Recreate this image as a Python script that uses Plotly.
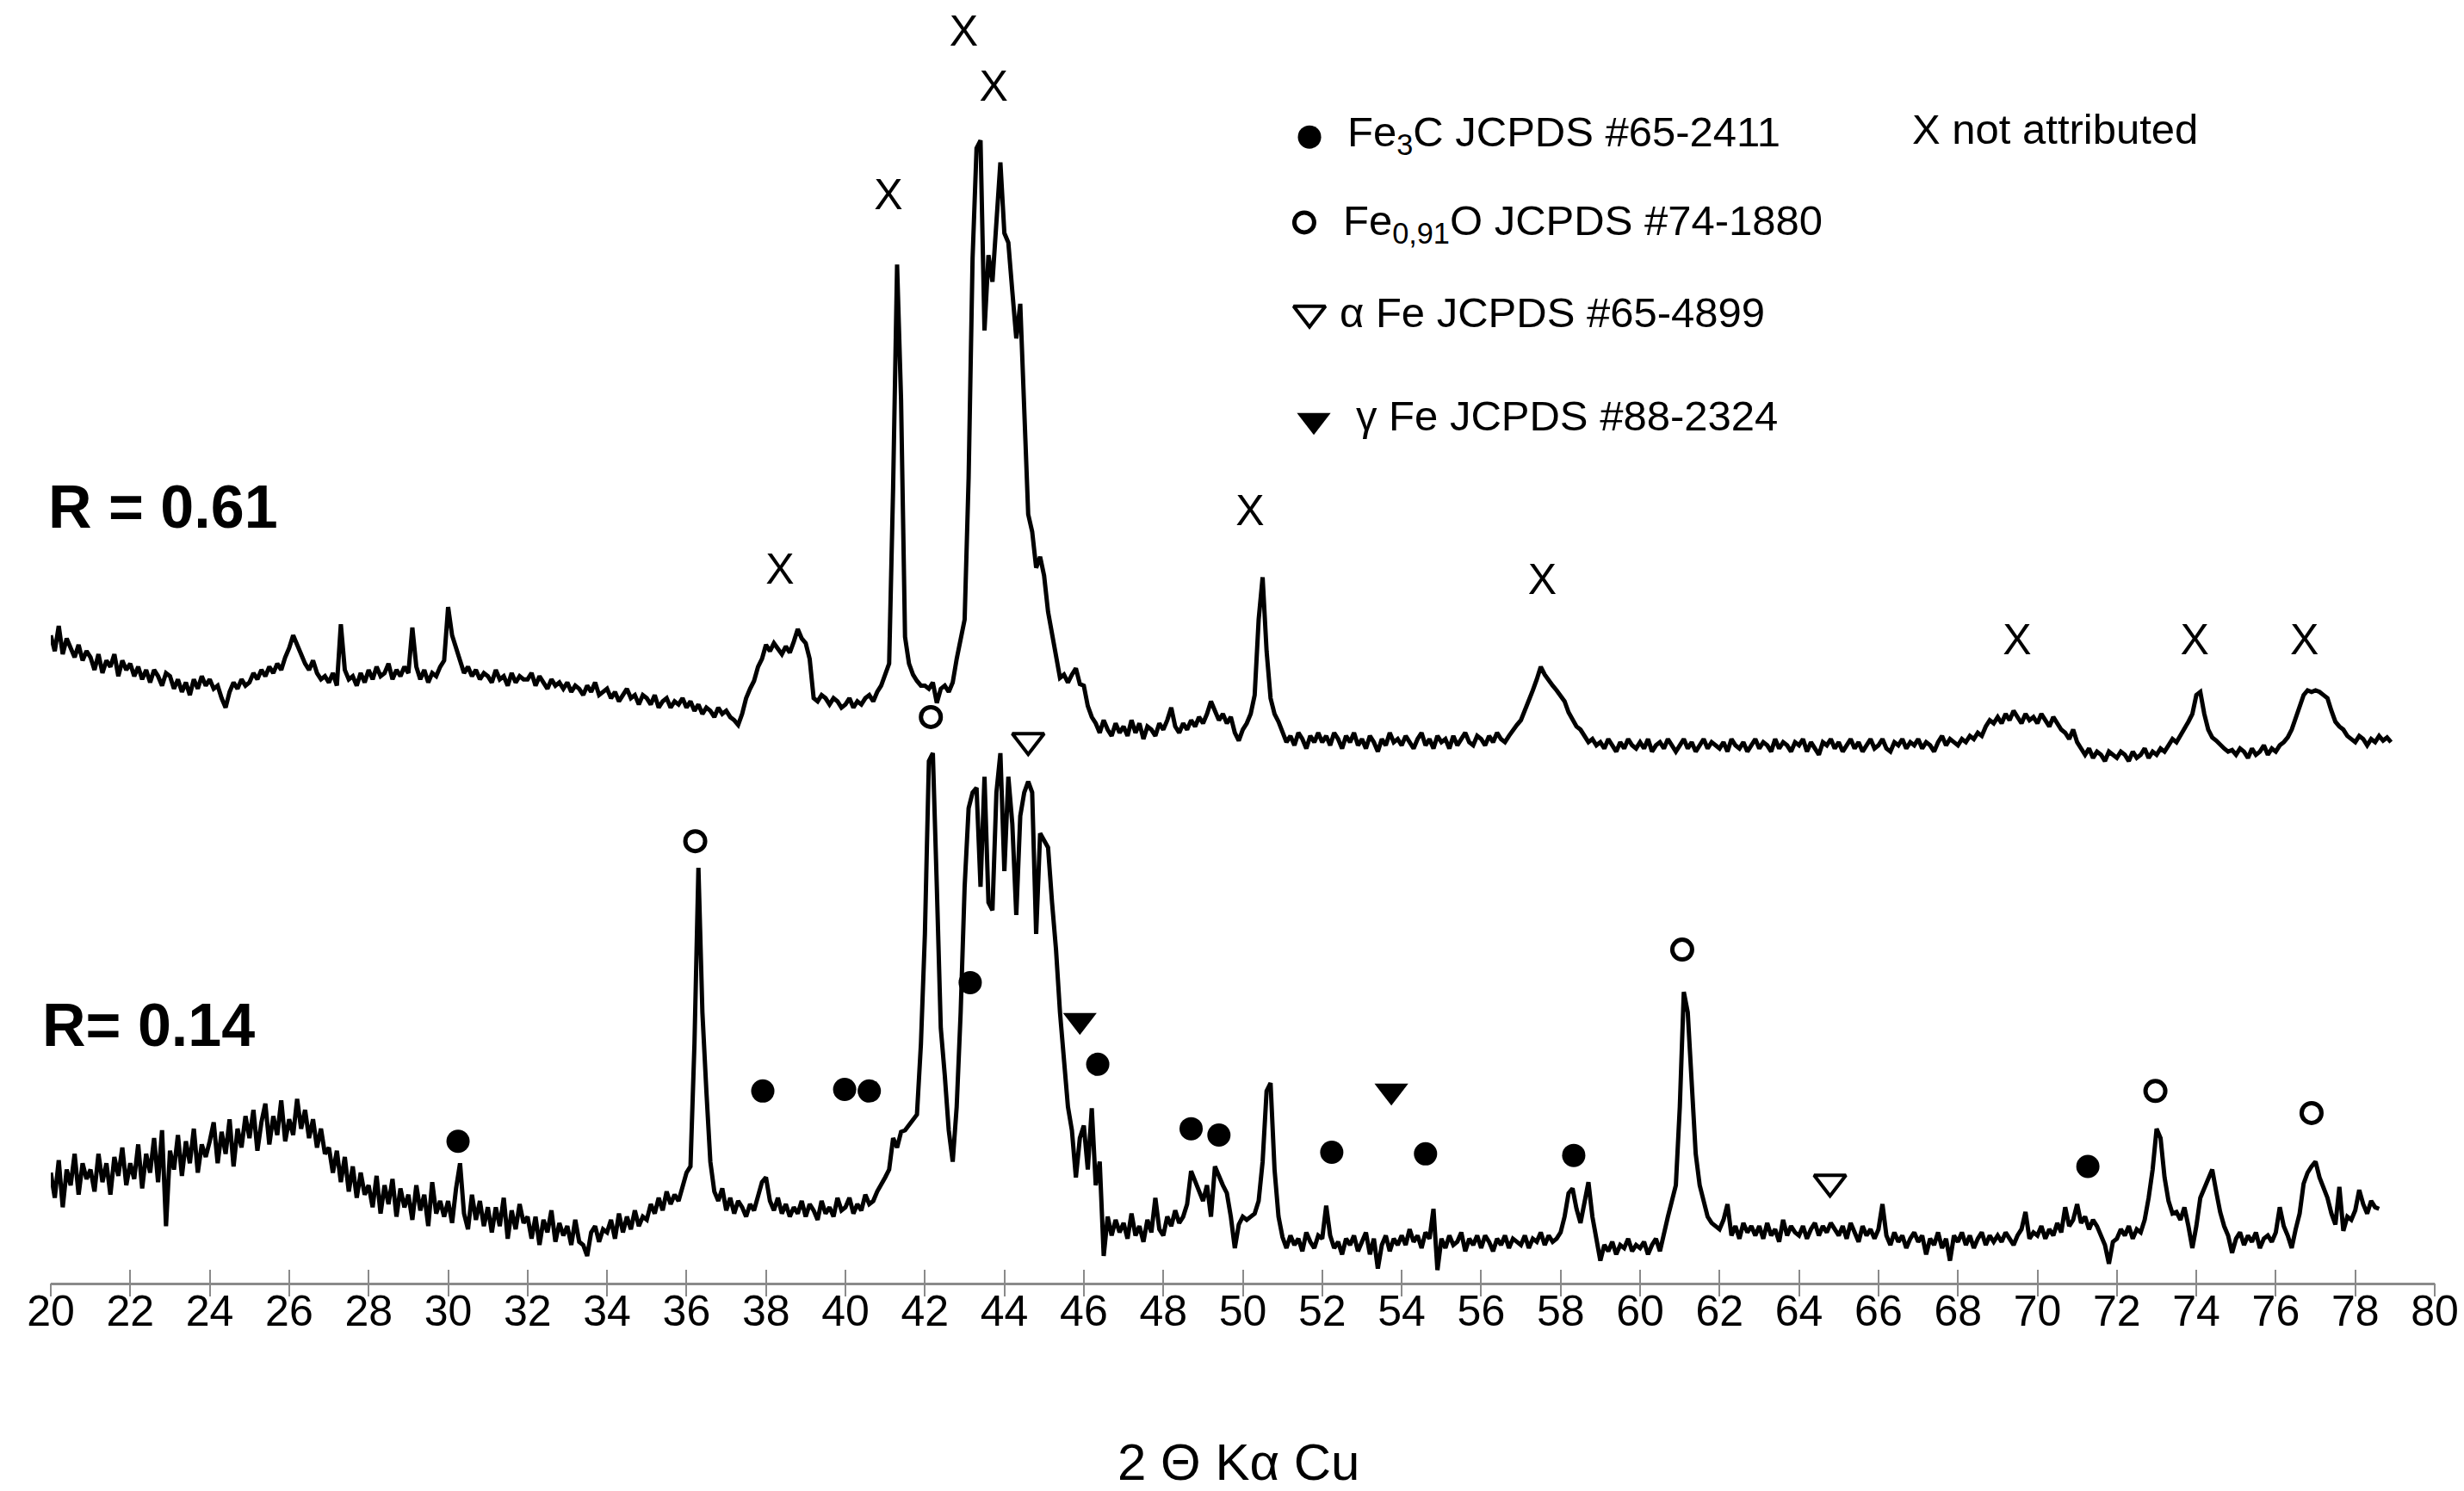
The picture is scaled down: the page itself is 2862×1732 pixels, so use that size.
import numpy as np
import plotly.graph_objects as go

# ---------------- data (intensity, arbitrary units) ----------------
TWO_THETA_START = 20.0   # first 2θ of each scan (degrees)
TWO_THETA_STEP = 0.1     # scan step (degrees)

# Sample R = 0.14 (lower pattern), one row per degree (20.x, 21.x, ...)
R014_INTENSITY = [
    70, 54, 78, 48, 72, 62, 82, 56, 76, 66,
    72, 58, 82, 64, 76, 56, 80, 68, 86, 62,
    76, 66, 88, 60, 82, 70, 92, 64, 97, 36,
    84, 72, 94, 68, 90, 76, 98, 70, 88, 80,
    90, 102, 76, 96, 82, 104, 74, 98, 86, 106,
    92, 110, 84, 102, 114, 88, 106, 94, 116, 90,
    104, 94, 117, 98, 110, 92, 104, 86, 98, 82,
    86, 70, 84, 64, 80, 58, 74, 54, 70, 56,
    62, 48, 68, 44, 62, 50, 66, 42, 60, 48,
    56, 40, 62, 46, 56, 36, 64, 44, 52, 42,
    52, 38, 60, 76, 44, 34, 56, 40, 52, 36,
    48, 32, 48, 36, 54, 28, 46, 34, 50, 38,
    42, 28, 42, 24, 40, 32, 46, 26, 38, 30,
    36, 24, 40, 26, 24, 17, 32, 36, 26, 34,
    32, 40, 28, 44, 32, 42, 34, 46, 36, 42,
    40, 50, 44, 54, 46, 58, 50, 56, 52, 62,
    70, 74, 152, 264, 172, 122, 77, 58, 52, 60,
    46, 54, 44, 52, 48, 42, 50, 46, 56, 64,
    67, 52, 46, 54, 44, 50, 42, 48, 44, 52,
    42, 50, 46, 40, 52, 44, 48, 42, 54, 46,
    48, 54, 44, 50, 46, 56, 50, 52, 58, 62,
    67, 72, 92, 86, 96, 97, 100, 104, 107, 152,
    222, 332, 337, 252, 162, 132, 97, 77, 112, 172,
    252, 302, 312, 315, 252, 322, 242, 237, 312, 337,
    262, 322, 292, 234, 297, 312, 319, 312, 222, 286,
    282, 277, 242, 212, 172, 142, 112, 97, 67, 92,
    100, 72, 111, 62, 77, 17, 42, 30, 40, 32,
    38, 28, 44, 30, 36, 26, 40, 32, 54, 34,
    30, 42, 36, 46, 38, 42, 50, 71, 64, 57,
    52, 62, 42, 74, 67, 62, 57, 42, 22, 37,
    42, 40, 42, 44, 52, 77, 122, 127, 72, 42,
    29, 22, 30, 24, 28, 20, 32, 26, 22, 30,
    28, 49, 30, 22, 26, 18, 28, 24, 30, 20,
    26, 32, 18, 28, 9, 24, 30, 20, 28, 24,
    30, 24, 34, 26, 30, 22, 32, 28, 47, 8,
    28, 22, 30, 24, 26, 32, 20, 28, 24, 30,
    22, 30, 26, 20, 28, 24, 30, 22, 28, 26,
    24, 30, 22, 28, 26, 32, 24, 30, 26, 28,
    32, 42, 57, 60, 47, 38, 52, 64, 42, 27,
    14, 24, 20, 26, 18, 24, 22, 28, 20, 24,
    22, 26, 18, 24, 28, 20, 32, 42, 52, 62,
    112, 185, 172, 122, 82, 62, 52, 42, 38, 36,
    34, 40, 50, 30, 36, 28, 38, 32, 36, 30,
    36, 28, 38, 30, 34, 26, 40, 30, 36, 32,
    30, 36, 28, 34, 38, 30, 36, 32, 38, 34,
    30, 36, 28, 38, 32, 26, 36, 30, 34, 28,
    34, 50, 30, 24, 32, 26, 30, 22, 28, 32,
    26, 30, 18, 28, 24, 32, 22, 28, 14, 30,
    26, 32, 24, 30, 22, 28, 32, 24, 30, 26,
    30, 26, 32, 28, 24, 30, 34, 45, 28, 32,
    30, 36, 28, 34, 30, 38, 32, 48, 36, 40,
    50, 38, 42, 34, 40, 36, 30, 24, 12, 26,
    28, 34, 30, 36, 28, 34, 32, 40, 54, 72,
    98, 92, 67, 52, 44, 45, 40, 48, 36, 22,
    36, 54, 60, 67, 72, 58, 45, 36, 30, 19,
    28, 32, 24, 30, 26, 32, 22, 28, 30, 26,
    32, 48, 36, 30, 22, 34, 44, 63, 70, 74,
    77, 67, 60, 54, 44, 37, 61, 33, 42, 40,
    46, 59, 50, 44, 52, 48, 47,
]

# Sample R = 0.61 (upper pattern, raw intensity before stacking)
R061_INTENSITY = [
    112, 102, 118, 100, 110, 104, 98, 106, 96, 102,
    98, 90, 100, 88, 96, 92, 100, 86, 96, 90,
    94, 86, 92, 84, 90, 82, 90, 86, 80, 88,
    86, 78, 84, 76, 82, 74, 84, 78, 86, 80,
    84, 78, 80, 72, 66, 76, 82, 78, 84, 80,
    82, 88, 84, 90, 86, 92, 88, 94, 90, 98,
    104, 112, 106, 100, 94, 90, 96, 88, 84, 86,
    82, 88, 80, 119, 90, 84, 86, 80, 88, 82,
    90, 84, 92, 86, 88, 94, 84, 90, 86, 92,
    88, 117, 92, 84, 90, 82, 88, 86, 92, 96,
    130, 112, 105, 96, 88, 92, 86, 90, 84, 88,
    86, 82, 90, 84, 86, 80, 88, 82, 86, 84,
    84, 88, 80, 86, 82, 78, 84, 80, 82, 78,
    82, 76, 80, 78, 74, 80, 76, 82, 74, 76,
    78, 72, 76, 70, 74, 78, 72, 74, 68, 74,
    72, 68, 74, 66, 70, 72, 66, 70, 68, 72,
    66, 70, 64, 68, 62, 66, 64, 60, 66, 62,
    64, 60, 58, 55, 62, 72, 78, 83, 92, 97,
    106, 102, 107, 104, 100, 105, 101, 108, 116, 110,
    107, 97, 72, 70, 74, 72, 68, 72, 70, 66,
    68, 72, 66, 70, 68, 72, 74, 70, 76, 80,
    88, 94, 206, 348, 262, 111, 94, 87, 83, 80,
    80, 78, 82, 69, 78, 80, 76, 82, 97, 111,
    122, 212, 352, 422, 427, 306, 354, 337, 376, 413,
    368, 362, 331, 301, 323, 262, 189, 178, 155, 162,
    150, 127, 112, 97, 85, 87, 82, 87, 91, 81,
    80, 67, 60, 56, 50, 58, 52, 48, 56, 50,
    54, 48, 58, 50, 56, 46, 54, 52, 48, 56,
    52, 58, 66, 54, 50, 56, 52, 58, 54, 60,
    56, 62, 70, 64, 58, 62, 56, 60, 50, 45,
    52, 56, 62, 74, 122, 149, 102, 72, 62, 57,
    50, 44, 48, 42, 50, 46, 40, 48, 44, 50,
    44, 48, 42, 50, 46, 40, 48, 44, 50, 42,
    46, 40, 48, 44, 38, 46, 42, 50, 44, 46,
    42, 48, 44, 40, 46, 50, 42, 46, 40, 48,
    44, 46, 40, 48, 42, 46, 50, 44, 42, 48,
    46, 42, 48, 44, 50, 46, 44, 48, 52, 55,
    58, 64, 70, 77, 84, 92, 87, 83, 80, 77,
    74, 70, 63, 58, 54, 52, 48, 44, 46, 42,
    44, 40, 46, 42, 38, 44, 40, 46, 42, 40,
    44, 40, 46, 38, 42, 44, 40, 46, 42, 38,
    42, 46, 40, 44, 38, 42, 46, 40, 44, 42,
    40, 44, 38, 46, 42, 40, 44, 38, 42, 46,
    40, 44, 42, 38, 46, 40, 44, 42, 38, 44,
    42, 46, 38, 44, 40, 36, 44, 42, 46, 40,
    44, 38, 42, 46, 40, 44, 38, 42, 46, 40,
    42, 46, 40, 38, 44, 42, 46, 40, 44, 42,
    46, 40, 44, 42, 38, 44, 48, 42, 46, 44,
    42, 46, 44, 48, 46, 50, 48, 54, 58, 56,
    60, 56, 62, 58, 64, 60, 56, 62, 58, 60,
    56, 62, 58, 54, 60, 56, 52, 50, 46, 52,
    44, 40, 36, 40, 34, 38, 36, 32, 38, 36,
    34, 38, 36, 32, 38, 34, 36, 40, 34, 38,
    36, 40, 38, 42, 46, 44, 48, 52, 57, 62,
    74, 76, 62, 52, 47, 45, 42, 40, 38, 39,
    36, 40, 38, 34, 40, 36, 38, 42, 36, 40,
    38, 42, 44, 47, 52, 59, 66, 74, 77, 76,
    77, 76, 74, 72, 64, 57, 54, 52, 48, 46,
    44, 48, 46, 42, 46, 44, 48, 45, 47, 44,
]
R061_STACK_OFFSET = 300  # vertical offset of the upper pattern

# Phase identification marks on the R = 0.14 pattern (2θ, label height)
FE3C_2THETA = [30.25, 37.92, 39.98, 40.6, 43.14, 46.35, 48.7, 49.4, 52.24, 54.6, 58.33, 71.27]
FE3C_LEVEL = [90, 122, 123, 122, 191, 139, 98, 94, 83, 82, 81, 74]
FEO_2THETA = [36.22, 42.15, 61.06, 72.97, 76.9]
FEO_LEVEL = [281, 360, 212, 122, 108]
ALPHA_FE_2THETA = [44.6, 64.78]
ALPHA_FE_LEVEL = [345, 64]
GAMMA_FE_2THETA = [45.9, 53.74]
GAMMA_FE_LEVEL = [167, 122]
# Not attributed peaks on the R = 0.61 pattern (2θ, label height before stacking)
UNATTR_2THETA = [38.35, 41.08, 42.98, 43.73, 50.18, 57.54, 69.49, 73.96, 76.72]
UNATTR_LEVEL = [152, 390, 494, 459, 189, 145, 107, 107, 107]

X_TICKS = list(range(20, 81, 2))

LEGEND_LABELS = [
    "Fe<sub>3</sub>C JCPDS #65-2411",
    "Fe<sub>0,91</sub>O JCPDS #74-1880",
    "\u03b1 Fe JCPDS #65-4899",
    "\u03b3 Fe JCPDS #88-2324",
]

# ---------------- figure ----------------
FONT = "Liberation Sans Narrow, Arial Narrow, Liberation Sans, sans-serif"
INK = "black"
AXIS_GRAY = "#8a8a8a"

tt_b = np.round(TWO_THETA_START + TWO_THETA_STEP * np.arange(len(R014_INTENSITY)), 2)
tt_t = np.round(TWO_THETA_START + TWO_THETA_STEP * np.arange(len(R061_INTENSITY)), 2)

fig = go.Figure()

fig.add_trace(go.Scatter(x=tt_b, y=R014_INTENSITY, mode="lines",
                         line=dict(color=INK, width=5), showlegend=False,
                         name="R = 0.14"))
fig.add_trace(go.Scatter(x=tt_t, y=np.array(R061_INTENSITY) + R061_STACK_OFFSET,
                         mode="lines", xaxis="x2",
                         line=dict(color=INK, width=5), showlegend=False,
                         name="R = 0.61"))

MARKERS = {
    "fe3c": dict(symbol="circle", size=27, color=INK, line=dict(width=0)),
    "feo": dict(symbol="circle-open", size=23, color=INK, line=dict(width=5, color=INK)),
    "alpha": dict(symbol="triangle-down-open", size=32, color=INK, line=dict(width=4, color=INK)),
    "gamma": dict(symbol="triangle-down", size=34, color=INK, line=dict(width=0)),
}

for key, xs, ys in [("fe3c", FE3C_2THETA, FE3C_LEVEL),
                    ("feo", FEO_2THETA, FEO_LEVEL),
                    ("alpha", ALPHA_FE_2THETA, ALPHA_FE_LEVEL),
                    ("gamma", GAMMA_FE_2THETA, GAMMA_FE_LEVEL)]:
    fig.add_trace(go.Scatter(x=xs, y=ys, mode="markers", marker=MARKERS[key],
                             xaxis="x4", showlegend=False, cliponaxis=False))

fig.add_trace(go.Scatter(x=UNATTR_2THETA,
                         y=np.array(UNATTR_LEVEL) + R061_STACK_OFFSET,
                         mode="text", text=["X"] * len(UNATTR_2THETA),
                         textfont=dict(family=FONT, size=50, color=INK),
                         textposition="middle center", showlegend=False,
                         cliponaxis=False))

# legend key (drawn on a hidden unit overlay axis)
LEG_SYM_X = [0.528, 0.5258, 0.528, 0.5298]
LEG_SYM_Y = [0.898, 0.831, 0.760, 0.676]
LEG_TXT_X = [0.543, 0.5415, 0.540, 0.5468]
LEG_TXT_Y = [0.900, 0.8305, 0.7605, 0.6795]
for i, key in enumerate(["fe3c", "feo", "alpha", "gamma"]):
    fig.add_trace(go.Scatter(x=[LEG_SYM_X[i]], y=[LEG_SYM_Y[i]], xaxis="x3", yaxis="y3",
                             mode="markers", marker=MARKERS[key], showlegend=False,
                             cliponaxis=False))

annotations = []
for i, lab in enumerate(LEGEND_LABELS):
    annotations.append(dict(xref="paper", yref="paper", x=LEG_TXT_X[i], y=LEG_TXT_Y[i],
                            xanchor="left", yanchor="middle", text=lab, showarrow=False,
                            font=dict(family=FONT, size=49, color=INK)))
annotations.append(dict(xref="paper", yref="paper", x=0.780, y=0.9045, xanchor="left",
                        yanchor="middle", text="X not attributed", showarrow=False,
                        font=dict(family=FONT, size=49, color=INK)))
annotations.append(dict(xref="paper", yref="paper", x=0.0, y=0.608, xanchor="left",
                        yanchor="middle", text="<b>R = 0.61</b>", showarrow=False,
                        xshift=-5, font=dict(family=FONT, size=70, color=INK)))
annotations.append(dict(xref="paper", yref="paper", x=0.0, y=0.202, xanchor="left",
                        yanchor="middle", text="<b>R= 0.14</b>", showarrow=False,
                        xshift=-12, font=dict(family=FONT, size=70, color=INK)))
# x-axis title
annotations.append(dict(xref="paper", yref="paper", x=0.5, y=-0.1405, xanchor="center",
                        yanchor="middle", text="2 \u0398 K\u03b1 Cu", showarrow=False,
                        xshift=-5, font=dict(family=FONT, size=60, color=INK)))

fig.update_layout(
    width=2862, height=1732, autosize=False,
    margin=dict(l=51, r=42, t=0, b=250, pad=0),
    paper_bgcolor="white", plot_bgcolor="white",
    showlegend=False,
    font=dict(family=FONT, color=INK),
    xaxis=dict(range=[20, 80], tickmode="array", tickvals=X_TICKS,
               ticktext=[str(v) for v in X_TICKS],
               ticks="", showline=True, linecolor=AXIS_GRAY, linewidth=3,
               showgrid=False, zeroline=False,
               tickfont=dict(family=FONT, size=50, color=INK),
               ticklabelstandoff=-13,
               automargin=False),
    xaxis2=dict(range=[20, 80], overlaying="x", anchor="y", side="bottom",
                tickmode="array", tickvals=X_TICKS, ticks="inside", ticklen=15,
                tickwidth=2, tickcolor=AXIS_GRAY, showticklabels=False,
                showline=False, showgrid=False, zeroline=False),
    xaxis4=dict(range=[20, 80], overlaying="x", anchor="y", side="bottom",
                tickmode="array", tickvals=X_TICKS, ticks="outside", ticklen=15,
                tickwidth=2, tickcolor=AXIS_GRAY, showticklabels=False,
                showline=False, showgrid=False, zeroline=False),
    yaxis=dict(range=[0, 812], visible=False, fixedrange=True),
    xaxis3=dict(range=[0, 1], visible=False, overlaying="x", anchor="y3"),
    yaxis3=dict(range=[0, 1], visible=False, overlaying="y", anchor="x3"),
    annotations=annotations,
)

fig.write_html("out.html")
